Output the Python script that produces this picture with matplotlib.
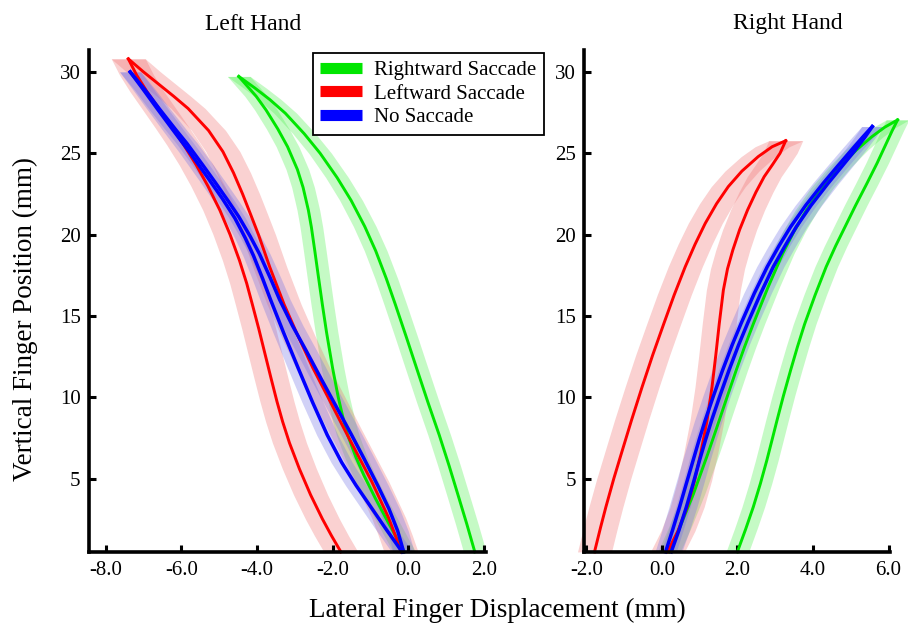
import numpy as np
import matplotlib
matplotlib.use("Agg")
import matplotlib.pyplot as plt
from matplotlib.lines import Line2D

plt.rcParams["font.family"] = ["Liberation Serif", "DejaVu Serif"]

# ---- data (mm); each condition = two branches meeting at the top ----
# Left hand
left_green_a_y = [29.72, 28.5, 27.66, 26.5, 25.4, 24.0, 22.9, 21.5, 20.45, 19.0, 17.5, 15.7,
                  14.0, 11.8, 10.0, 8.5, 7.68, 6.3, 5.2, 3.8, 2.53, 1.5, 0.5]
left_green_a_x = [-4.48, -4.02, -3.76, -3.45, -3.19, -2.93, -2.78, -2.64, -2.56, -2.47, -2.38, -2.27,
                  -2.16, -2.00, -1.85, -1.70, -1.60, -1.38, -1.17, -0.87, -0.58, -0.34, -0.10]
left_green_b_y = [29.72, 29.0, 28.3, 27.46, 26.2, 25.0, 23.5, 22.1, 20.5, 19.0, 17.3, 15.7,
                  13.7, 11.8, 9.7, 7.68, 5.8, 3.97, 2.2, 0.5]
left_green_b_x = [-4.48, -4.05, -3.66, -3.25, -2.75, -2.33, -1.88, -1.51, -1.15, -0.86, -0.58, -0.34,
                  -0.05, 0.22, 0.52, 0.82, 1.08, 1.32, 1.55, 1.76]

left_red_a_y = [30.8, 29.8, 28.8, 27.7, 26.6, 25.5, 24.3, 23.0, 21.5, 20.0, 18.4, 17.0, 15.7,
                14.2, 12.7, 11.2, 9.74, 8.5, 7.2, 5.62, 4.0, 2.53, 1.5, 0.5]
left_red_a_x = [-7.4, -7.18, -6.91, -6.58, -6.25, -5.93, -5.61, -5.30, -4.98, -4.71, -4.46, -4.27, -4.12,
                -3.95, -3.79, -3.63, -3.47, -3.32, -3.14, -2.88, -2.58, -2.27, -2.03, -1.78]
left_red_b_y = [30.8, 30.0, 29.4, 28.5, 27.75, 26.4, 25.1, 23.8, 22.5, 21.2, 20.0, 18.0, 15.7,
                13.8, 11.8, 10.0, 8.09, 6.4, 4.8, 3.6, 2.6, 1.5, 0.5]
left_red_b_x = [-7.4, -7.0, -6.68, -6.2, -5.82, -5.28, -4.90, -4.62, -4.38, -4.16, -3.96, -3.66, -3.28,
                -2.92, -2.52, -2.12, -1.70, -1.32, -0.96, -0.72, -0.52, -0.34, -0.19]

left_blue_a_y = [30.0, 28.9, 27.75, 26.4, 25.1, 23.4, 22.2, 21.0, 19.8, 18.7, 17.3, 16.0, 14.0,
                 11.8, 9.7, 7.68, 6.0, 4.59, 3.2, 1.91, 0.5]
left_blue_a_x = [-7.35, -7.0, -6.64, -6.21, -5.79, -5.27, -4.91, -4.58, -4.31, -4.09, -3.85, -3.64, -3.30,
                 -2.91, -2.53, -2.14, -1.76, -1.38, -0.97, -0.59, -0.16]
left_blue_b_y = [30.0, 28.9, 27.7, 26.4, 25.6, 24.3, 23.2, 22.1, 21.1, 19.9, 18.8, 17.3, 16.0,
                 14.4, 12.83, 11.0, 9.33, 7.7, 6.24, 4.6, 3.15, 1.8, 0.5]
left_blue_b_x = [-7.35, -6.96, -6.57, -6.13, -5.85, -5.44, -5.10, -4.77, -4.48, -4.18, -3.93, -3.64, -3.40,
                 -3.06, -2.69, -2.27, -1.88, -1.50, -1.17, -0.81, -0.51, -0.28, -0.12]

# Right hand
right_green_a_y = [0.5, 2.02, 4.08, 6.54, 8.1, 9.62, 11.67, 13.1, 14.5, 16.7, 18.84, 20.2, 21.51,
                   22.9, 24.18, 25.2, 26.0, 26.6, 27.05]
right_green_a_x = [0.19, 0.48, 0.84, 1.22, 1.45, 1.67, 1.97, 2.19, 2.42, 2.80, 3.20, 3.50, 3.83,
                   4.25, 4.72, 5.15, 5.55, 5.90, 6.24]
right_green_b_y = [0.5, 1.9, 3.25, 4.7, 6.13, 7.4, 8.59, 10.1, 11.67, 13.1, 14.5, 16.3, 18.02,
                   19.3, 20.48, 21.8, 23.15, 24.4, 25.6, 26.4, 27.05]
right_green_b_x = [2.0, 2.22, 2.42, 2.61, 2.78, 2.92, 3.05, 3.22, 3.41, 3.59, 3.78, 4.06, 4.35,
                   4.60, 4.85, 5.13, 5.43, 5.70, 5.94, 6.10, 6.24]

right_red_a_y = [0.5, 2.0, 3.25, 5.0, 6.54, 8.6, 10.64, 12.6, 14.5, 16.3, 18.02, 19.4, 20.69,
                 21.9, 22.95, 23.9, 24.79, 25.4, 25.77]
right_red_a_x = [-1.78, -1.62, -1.48, -1.27, -1.07, -0.80, -0.52, -0.24, 0.05, 0.33, 0.62, 0.88, 1.15,
                 1.45, 1.76, 2.12, 2.55, 2.92, 3.28]
right_red_b_y = [0.5, 1.8, 3.25, 4.9, 6.54, 8.6, 10.64, 12.6, 14.5, 16.59, 17.9, 19.05, 20.3,
                 21.51, 22.6, 23.56, 24.3, 25.0, 25.77]
right_red_b_x = [0.15, 0.43, 0.67, 0.87, 1.03, 1.20, 1.33, 1.43, 1.52, 1.63, 1.74, 1.88, 2.06,
                 2.27, 2.49, 2.71, 2.93, 3.13, 3.28]

right_blue_a_y = [0.5, 1.8, 3.25, 4.7, 6.13, 7.4, 8.59, 10.1, 11.67, 13.2, 14.6, 16.4, 18.02,
                  19.3, 20.48, 21.8, 23.15, 24.2, 25.2, 26.0, 26.64]
right_blue_a_x = [0.10, 0.28, 0.47, 0.65, 0.83, 0.99, 1.15, 1.37, 1.61, 1.86, 2.11, 2.45, 2.79,
                  3.10, 3.41, 3.81, 4.27, 4.65, 5.02, 5.32, 5.57]
right_blue_b_y = right_blue_a_y
right_blue_b_x = [0.25, 0.45, 0.65, 0.83, 1.00, 1.16, 1.32, 1.54, 1.78, 2.03, 2.28, 2.62, 2.95,
                  3.26, 3.56, 3.95, 4.40, 4.77, 5.12, 5.38, 5.57]

labels = ["Rightward Saccade", "Leftward Saccade", "No Saccade"]
line_colors = ["#00e600", "#ff0000", "#0000ff"]
band_colors = ["#4df04d", "#f07070", "#7070e6"]
band_halfwidth = [0.30, 0.45, 0.28]

left_sets = [
    [(left_green_a_x, left_green_a_y), (left_green_b_x, left_green_b_y)],
    [(left_red_a_x, left_red_a_y), (left_red_b_x, left_red_b_y)],
    [(left_blue_a_x, left_blue_a_y), (left_blue_b_x, left_blue_b_y)],
]
right_sets = [
    [(right_green_a_x, right_green_a_y), (right_green_b_x, right_green_b_y)],
    [(right_red_a_x, right_red_a_y), (right_red_b_x, right_red_b_y)],
    [(right_blue_a_x, right_blue_a_y), (right_blue_b_x, right_blue_b_y)],
]


def draw_panel(ax, sets):
    for k, branches in enumerate(sets):
        for bx, by in branches:
            bx = np.asarray(bx)
            ax.fill_betweenx(by, bx - band_halfwidth[k], bx + band_halfwidth[k],
                             color=band_colors[k], alpha=0.32, lw=0, clip_on=False)
    for k, branches in enumerate(sets):
        for bx, by in branches:
            ax.plot(bx, by, color=line_colors[k], lw=2.5 if k == 2 else 2.1,
                    solid_joinstyle="round", clip_on=False)
    ax.set_ylim(0.48, 31.35)
    ax.set_yticks([5, 10, 15, 20, 25, 30])
    for s in ["top", "right"]:
        ax.spines[s].set_visible(False)
    for s in ["left", "bottom"]:
        ax.spines[s].set_linewidth(2.6)
    ax.tick_params(direction="in", length=5, width=2.2, labelsize=15, pad=6)


fig = plt.figure(figsize=(9.08, 6.24), dpi=100)
ax1 = fig.add_axes([0.098, 0.115, 0.437, 0.805])
ax2 = fig.add_axes([0.6435, 0.115, 0.3367, 0.805])

draw_panel(ax1, left_sets)
ax1.set_xlim(-8.44, 2.05)
ax1.set_xticks([-8, -6, -4, -2, 0, 2])
ax1.set_xticklabels(["-8.0", "-6.0", "-4.0", "-2.0", "0.0", "2.0"])

draw_panel(ax2, right_sets)
ax2.set_xlim(-2.05, 6.04)
ax2.set_xticks([-2, 0, 2, 4, 6])
ax2.set_xticklabels(["-2.0", "0.0", "2.0", "4.0", "6.0"])

fig.text(253 / 908, 1 - 24 / 624, "Left Hand", ha="center", va="center", fontsize=17)
fig.text(788 / 908, 1 - 24 / 624, "Right Hand", ha="center", va="center", fontsize=17)
fig.text(497 / 908, 1 - 610 / 624, "Lateral Finger Displacement (mm)",
         ha="center", va="center", fontsize=19.5)
fig.text(25 / 908, 1 - 319 / 624, "Vertical Finger Position (mm)",
         ha="center", va="center", rotation=90, fontsize=19.5)

handles = [Line2D([], [], color=c, lw=8, solid_capstyle="butt") for c in line_colors]
leg = fig.legend(handles, labels, loc="upper left", bbox_to_anchor=(313 / 908, 1 - 53 / 624),
                 fontsize=15, frameon=True, fancybox=False, handlelength=2.0,
                 handletextpad=0.6, borderpad=0.35, labelspacing=0.2, borderaxespad=0)
leg.get_frame().set_edgecolor("black")
leg.get_frame().set_linewidth(1.3)
leg.get_frame().set_alpha(1)

fig.savefig("out.png", dpi=100)
